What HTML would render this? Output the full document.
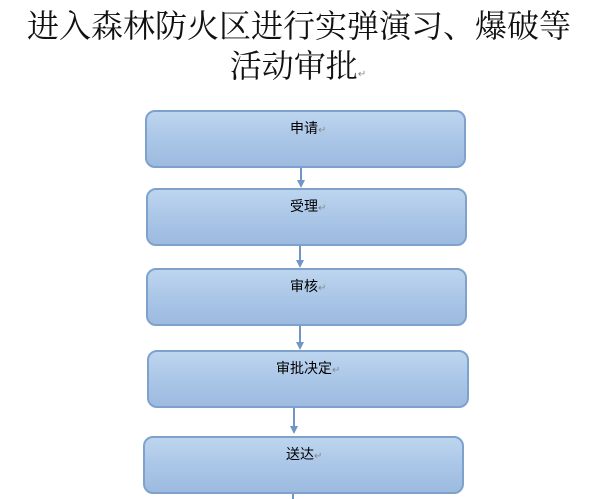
<!DOCTYPE html>
<html><head><meta charset="utf-8"><style>
html,body{margin:0;padding:0;background:#fff;width:606px;height:499px;overflow:hidden;position:relative}
.t{position:absolute;left:0;width:606px;text-align:center;font-family:"Noto Serif CJK SC","Liberation Serif",serif;font-weight:400;font-size:32px;line-height:32px;color:#111;white-space:nowrap}
.b{position:absolute;box-sizing:border-box;border:2px solid #7ea2cc;border-radius:10px;background:linear-gradient(#bdd5ef,#a9c5e6 55%,#9dbbe0)}
.l{position:absolute;font-family:"Liberation Sans","Noto Sans CJK SC",sans-serif;font-size:14px;line-height:15px;color:#000;white-space:nowrap}
.r{color:#888;font-size:10px}
</style></head><body>
<div class="t" style="top:8px;padding-right:8px;box-sizing:border-box">进入森林防火区进行实弹演习、爆破等</div>
<div class="t" style="top:48px;padding-right:10px;box-sizing:border-box">活动审批<span style="font-size:10px;color:#888">↵</span></div>

<div class="b" style="left:145px;top:110px;width:321px;height:58px"></div>
<div class="b" style="left:146px;top:188px;width:321px;height:58px"></div>
<div class="b" style="left:146px;top:268px;width:321px;height:58px"></div>
<div class="b" style="left:147px;top:350px;width:322px;height:58px"></div>
<div class="b" style="left:143px;top:436px;width:321px;height:58px"></div>

<div class="l" style="left:290px;top:121px">申请<span class="r">↵</span></div>
<div class="l" style="left:290px;top:199px">受理<span class="r">↵</span></div>
<div class="l" style="left:290px;top:279px">审核<span class="r">↵</span></div>
<div class="l" style="left:276px;top:361px">审批决定<span class="r">↵</span></div>
<div class="l" style="left:286px;top:447px">送达<span class="r">↵</span></div>

<svg width="606" height="499" style="position:absolute;left:0;top:0">
<g stroke="#6f96c4" stroke-width="2" fill="#6f96c4">
<line x1="301" y1="168" x2="301" y2="181"/><polygon points="297,180 305,180 301,188" stroke="none"/>
<line x1="300" y1="246" x2="300" y2="261"/><polygon points="296,260 304,260 300,268" stroke="none"/>
<line x1="300" y1="326" x2="300" y2="343"/><polygon points="296,342 304,342 300,350" stroke="none"/>
<line x1="294" y1="408" x2="294" y2="427"/><polygon points="290,426 298,426 294,434" stroke="none"/>
<line x1="293" y1="494" x2="293" y2="499"/>
</g>
</svg>
</body></html>
